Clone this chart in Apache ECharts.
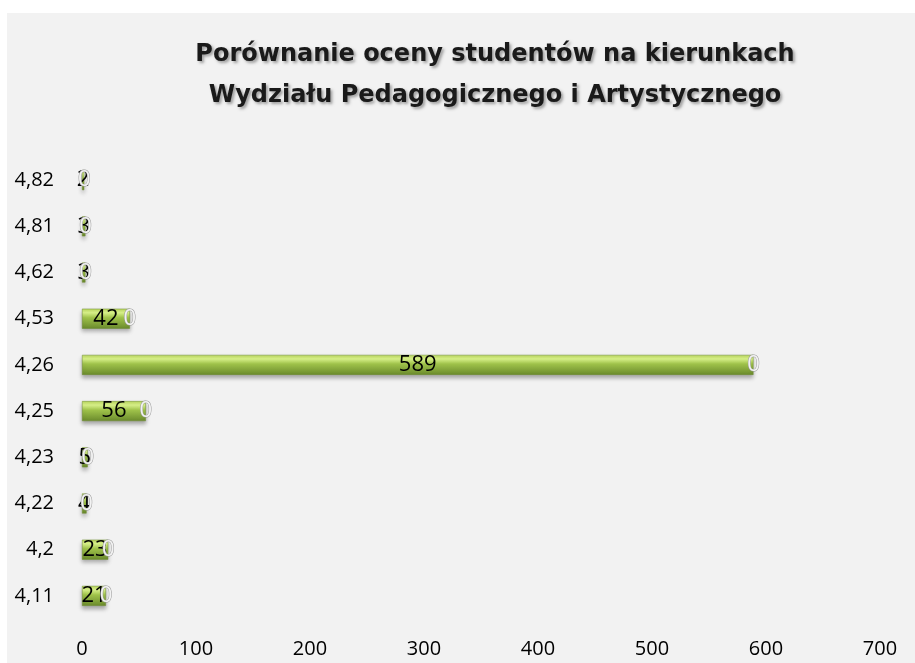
<!DOCTYPE html>
<html>
<head>
<meta charset="utf-8">
<script src="https://cdn.jsdelivr.net/npm/echarts@6/dist/echarts.min.js"></script>
<style>
  html, body { margin: 0; padding: 0; background: #ffffff; }
  #chart { position: absolute; left: 7px; top: 13px; width: 908px; height: 650px; }
</style>
</head>
<body>
<div id="chart"></div>
<script>
const categories = ["4,11", "4,2", "4,22", "4,23", "4,25", "4,26", "4,53", "4,62", "4,81", "4,82"];
const counts = [21, 23, 4, 5, 56, 589, 42, 3, 3, 2];
const zeros = [0, 0, 0, 0, 0, 0, 0, 0, 0, 0];
const xTicks = [0, 100, 200, 300, 400, 500, 600, 700];

const chart = echarts.init(document.getElementById("chart"));

const barGradient = new echarts.graphic.LinearGradient(0, 0, 0, 1, [
  { offset: 0, color: "#b8d65c" },
  { offset: 0.2, color: "#dcf58c" },
  { offset: 0.45, color: "#9fc24a" },
  { offset: 1, color: "#6a8a2c" },
]);

chart.setOption({
  backgroundColor: "#f2f2f2",
  title: {
    text: "Porównanie oceny studentów na kierunkach\nWydziału Pedagogicznego i Artystycznego",
    left: 483,
    top: 16,
    textAlign: "center",
    textStyle: {
      fontFamily: "DejaVu Sans",
      fontWeight: "bold",
      fontSize: 24,
      lineHeight: 41,
      color: "#1a1a1a",
      textShadowColor: "rgba(0,0,0,0.35)",
      textShadowBlur: 3,
      textShadowOffsetX: 2,
      textShadowOffsetY: 2,
    },
  },
  grid: { left: 75, right: 35, top: 144, bottom: 44, containLabel: false },
  xAxis: {
    type: "value",
    min: xTicks[0],
    max: xTicks[xTicks.length - 1],
    interval: 100,
    axisLine: { show: false },
    axisTick: { show: false },
    splitLine: { show: false },
    axisLabel: { margin: 20, fontSize: 20, color: "#000", fontFamily: "Open Sans" },
  },
  yAxis: {
    type: "category",
    data: categories,
    axisLine: { show: false },
    axisTick: { show: false },
    axisLabel: { margin: 28, fontSize: 20, color: "#000", fontFamily: "Open Sans" },
  },
  series: [
    {
      type: "bar",
      stack: "total",
      data: counts,
      barWidth: 20,
      itemStyle: {
        color: barGradient,
        borderColor: "#6f8c30",
        borderWidth: 0.5,
        shadowColor: "rgba(0,0,0,0.3)",
        shadowBlur: 4,
        shadowOffsetY: 3,
      },
      label: {
        show: true,
        position: "inside",
        color: "#000",
        fontSize: 22,
        fontFamily: "Open Sans",
      },
    },
    {
      type: "bar",
      stack: "total",
      data: zeros,
      barWidth: 20,
      itemStyle: { color: "transparent" },
      label: {
        show: true,
        position: "inside",
        color: "#f2f2f2",
        textBorderColor: "#999",
        textBorderWidth: 1,
        fontSize: 22,
        fontFamily: "Open Sans",
      },
    },
  ],
});
</script>
</body>
</html>
